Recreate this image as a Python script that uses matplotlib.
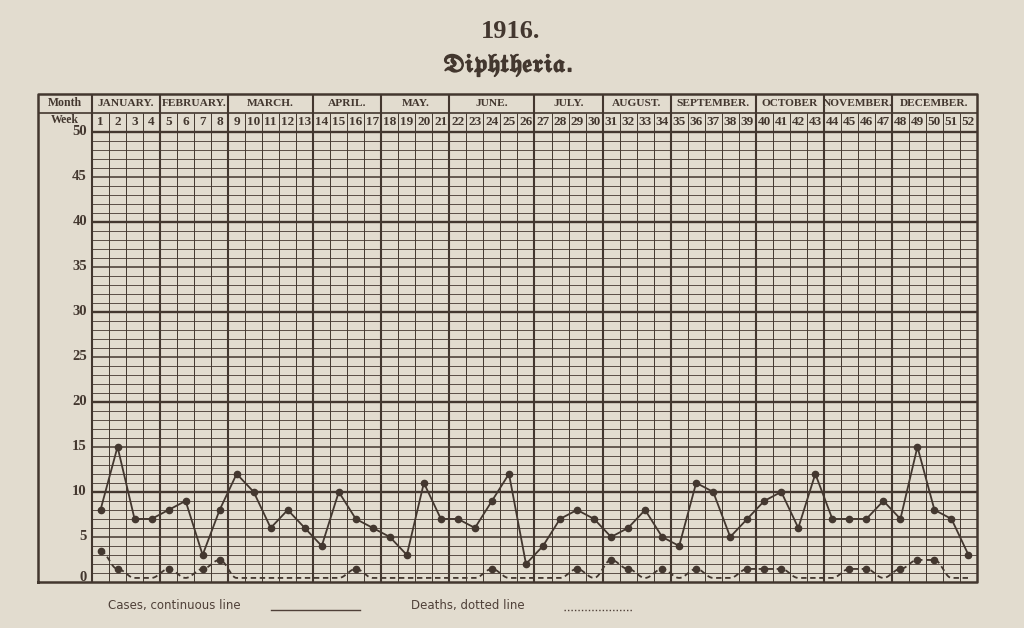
import numpy as np
import matplotlib.pyplot as plt
from matplotlib import patheffects

# weekly figures, 1916
weeks = np.arange(1, 53)
cases = [8, 15, 7, 7, 8, 9, 3, 8, 12, 10, 6, 8, 6, 4, 10, 7, 6, 5, 3, 11,
         7, 7, 6, 9, 12, 2, 4, 7, 8, 7, 5, 6, 8, 5, 4, 11, 10, 5, 7, 9,
         10, 6, 12, 7, 7, 7, 9, 7, 15, 8, 7, 3]
deaths = [3, 1, 0, 0, 1, 0, 1, 2, 0, 0, 0, 0, 0, 0, 0, 1, 0, 0, 0, 0,
          0, 0, 0, 1, 0, 0, 0, 0, 1, 0, 2, 1, 0, 1, 0, 1, 0, 0, 1, 1,
          1, 0, 0, 0, 1, 1, 0, 1, 2, 2, 0, 0]
month_names = ["JANUARY.", "FEBRUARY.", "MARCH.", "APRIL.", "MAY.", "JUNE.",
               "JULY.", "AUGUST.", "SEPTEMBER.", "OCTOBER", "NOVEMBER.", "DECEMBER."]
month_weeks = [4, 4, 5, 4, 4, 5, 4, 4, 5, 4, 4, 5]
y_labels = list(range(0, 51, 5))

paper = "#e2dccf"
ink = "#43372f"

W, H = 1024, 628
fig = plt.figure(figsize=(W / 100, H / 100), dpi=100, facecolor=paper)

# frame of the table in pixels
left, right, top, bottom = 38, 977, 94, 582
ax = fig.add_axes([left / W, 1 - bottom / H, (right - left) / W, (bottom - top) / H])
ax.set_facecolor(paper)
ax.axis("off")

px_week = (right - 92) / 52.0
px_unit = (bottom - 131.5) / 50.0
x0 = 0.5 - (92 - left) / px_week
ytop = 50 + (131.5 - top) / px_unit
yweek = 50 + (131.5 - 113) / px_unit
ax.set_xlim(x0, 52.5)
ax.set_ylim(0, ytop)

# horizontal grid
for v in range(1, 50):
    if v % 10 == 0:
        lw = 1.7
    elif v % 5 == 0:
        lw = 1.1
    else:
        lw = 0.6
    ax.hlines(v, 0.5, 52.5, color=ink, lw=lw, zorder=1)
ax.hlines(50, 0.5, 52.5, color=ink, lw=1.7, zorder=1)
ax.hlines(yweek, x0, 52.5, color=ink, lw=1.2, zorder=1)

# vertical grid
bounds = np.cumsum([0] + month_weeks) + 0.5
for k in range(1, 52):
    xb = k + 0.5
    if xb in bounds:
        ax.vlines(xb, 0, ytop, color=ink, lw=1.5, zorder=1)
    else:
        ax.vlines(xb, 0, yweek, color=ink, lw=0.7, zorder=1)
ax.vlines(0.5, 0, ytop, color=ink, lw=1.5, zorder=1)

# outer frame
ax.plot([x0, 52.5, 52.5, x0, x0], [0, 0, ytop, ytop, 0], color=ink, lw=1.8,
        clip_on=False, zorder=3)

serif = "Liberation Serif"
ax.text((x0 + 0.5) / 2, (ytop + yweek) / 2, "Month", ha="center", va="center",
        fontsize=8.5, fontweight="bold", family=serif, color=ink)
ax.text((x0 + 0.5) / 2, (yweek + 50) / 2 + 0.2, "Week", ha="center", va="center",
        fontsize=8.5, fontweight="bold", family=serif, color=ink)
for i, name in enumerate(month_names):
    ax.text((bounds[i] + bounds[i + 1]) / 2, (ytop + yweek) / 2, name, ha="center",
            va="center", fontsize=8.2, fontweight="bold", family=serif, color=ink)
for w in weeks:
    ax.text(w, (yweek + 50) / 2, str(w), ha="center", va="center", fontsize=9.5,
            fontweight="bold", family=serif, color=ink)
for v in y_labels:
    ax.text(0.2, v + (0.45 if v == 0 else 0), str(v), ha="right", va="center",
            fontsize=10.5, fontweight="bold", family=serif, color=ink)

# cases, continuous line
ax.plot(weeks, cases, color=ink, lw=1.3, marker="o", ms=4.5, zorder=5)


# deaths, dotted line (drawn as a smooth pen curve)
def smooth(x, y, n=24):
    xs, ys = [], []
    for i in range(len(x) - 1):
        t = np.linspace(0, 1, n, endpoint=False)
        s = (1 - np.cos(np.pi * t)) / 2
        xs.append(x[i] + t * (x[i + 1] - x[i]))
        ys.append(y[i] + s * (y[i + 1] - y[i]))
    xs.append([x[-1]])
    ys.append([y[-1]])
    return np.concatenate(xs), np.concatenate(ys)


lift = 0.45
d = np.array(deaths, dtype=float) + lift
sx, sy = smooth(weeks.astype(float), d)
ax.plot(sx, sy, color=ink, lw=1.3, ls=(0, (3, 2)), zorder=4)
nz = np.array(deaths) > 0
ax.plot(weeks[nz], d[nz], ls="none", marker="o", ms=4.5, color=ink, zorder=5)

# titles
fig.text(511 / W, 1 - 32 / H, "1916.", ha="center", va="center", fontsize=19,
         fontweight="bold", family=serif, color=ink)
t = fig.text(508 / W, 1 - 66 / H, r"$\mathfrak{Diphtheria}$.", ha="center",
             va="center", fontsize=17.5, math_fontfamily="stix", color=ink)
t.set_path_effects([patheffects.withStroke(linewidth=1.0, foreground=ink)])

# footer legend
foot = "#4f4038"
fig.text(108 / W, 1 - 606 / H, "Cases, continuous line", ha="left", va="center",
         fontsize=8.5, family="DejaVu Sans", color=foot)
fig.text(411 / W, 1 - 606 / H, "Deaths, dotted line", ha="left", va="center",
         fontsize=8.5, family="DejaVu Sans", color=foot)
fig.add_artist(plt.Line2D([271 / W, 360 / W], [1 - 610 / H, 1 - 610 / H],
                          color=foot, lw=1.0))
fig.add_artist(plt.Line2D([564 / W, 632 / W], [1 - 610 / H, 1 - 610 / H],
                          color=foot, lw=1.0, ls=(0, (1, 1.5))))

fig.savefig("out.png", dpi=100, facecolor=paper)
